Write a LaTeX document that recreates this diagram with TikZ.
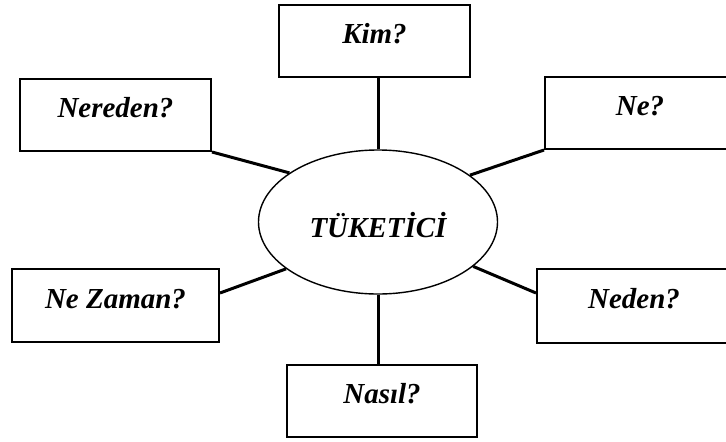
\documentclass[tikz,border=0pt]{standalone}
\usepackage{fontspec}
\setmainfont{Liberation Serif}
\usetikzlibrary{shapes.geometric, positioning}

\begin{document}
\begin{tikzpicture}[
    x=0.5pt, y=0.5pt,
    every node/.style={color=black, font=\fontsize{14.5}{17}\selectfont\bfseries\itshape},
    qbox/.style={draw, rectangle, line width=1pt, minimum width=95.5pt, minimum height=36pt,
                 inner ysep=0pt, text height=19.3pt, text depth=16.7pt},
    hub/.style={draw, ellipse, line width=0.7pt, minimum width=119.5pt, minimum height=72pt,
                inner sep=0pt, text height=17.8pt, text depth=2.2pt},
    link/.style={line width=1.5pt, color=black}
]
\useasboundingbox (0,0) rectangle (726,441);
\clip (0,0) rectangle (726,441);

% --- Centre ---
\node[hub] (tuk) at (378, 219) {TÜKETİCİ};

% --- Question boxes ---
\node[qbox] (kim) at (374.5, 400) {Kim?};
\node[qbox] (nereden) at (115.5, 326) {Nereden?};
\node[qbox, minimum width=95pt] (ne) at (640, 328) {Ne?};
\node[qbox, minimum width=103.5pt, minimum height=36.5pt] (nezaman) at (115.5, 135.5) {Ne Zaman?};
\node[qbox, minimum width=97pt, minimum height=37pt] (neden) at (634, 135) {Neden?};
\node[qbox, minimum width=95pt] (nasil) at (382, 40) {Nasıl?};

% --- Spokes ---
\draw[link] (tuk.north) -- (tuk.north |- kim.south);
\draw[link] (nereden.south east) -- (tuk.151);
\draw[link] (ne.south west) -- (tuk.27);
\draw[link] ([yshift=6.25pt]nezaman.east) -- (tuk.207);
\draw[link] ([yshift=6.5pt]neden.west) -- (tuk.335);
\draw[link] (tuk.south) -- (tuk.south |- nasil.north);

\end{tikzpicture}
\end{document}
